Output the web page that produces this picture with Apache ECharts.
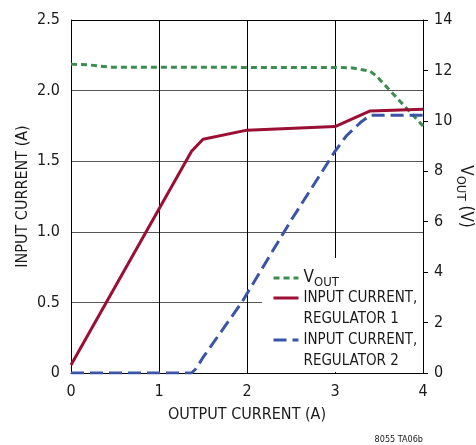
<!DOCTYPE html>
<html>
<head>
<meta charset="utf-8">
<script src="https://cdn.jsdelivr.net/npm/echarts@6/dist/echarts.min.js"></script>
<style>
html,body{margin:0;padding:0;background:#fff;}
#chart{width:476px;height:445px;}
</style>
</head>
<body>
<div id="chart"></div>
<script>
// ---- data ----
const xTicks = [0, 1, 2, 3, 4];
const leftTicks = [0, 0.5, 1.0, 1.5, 2.0, 2.5];
const rightTicks = [0, 2, 4, 6, 8, 10, 12, 14];

const voutX = [0, 0.2, 0.45, 1, 2, 3, 3.2, 3.4, 3.47, 4];
const voutY = [12.25, 12.22, 12.13, 12.13, 12.12, 12.12, 12.1, 11.97, 11.78, 9.8];

const reg1X = [0, 1.37, 1.5, 2, 3, 3.4, 4];
const reg1Y = [0.057, 1.57, 1.655, 1.72, 1.745, 1.856, 1.868];

const reg2X = [0, 1.37, 1.42, 1.5, 1.94, 2.22, 2.5, 3, 3.13, 3.3, 3.4, 4];
const reg2Y = [0, 0, 0.03, 0.11, 0.5, 0.79, 1.08, 1.57, 1.68, 1.78, 1.825, 1.825];

const zip = (xs, ys) => xs.map((x, i) => [x, ys[i]]);

const FONT = '"DejaVu Sans Condensed", "Liberation Sans Narrow", sans-serif';
const TXT = '#1a1a1a';
const GREEN = '#3d8c4f';
const RED = '#9a0f33';
const BLUE = '#3a55a8';

const chart = echarts.init(document.getElementById('chart'), null, {renderer: 'canvas'});

function legendFor(name, top) {
  return {
    orient: 'vertical',
    left: 272,
    top: top,
    padding: 0,
    itemWidth: 25,
    itemHeight: 14,
    itemGap: 0,
    selectedMode: false,
    data: [name],
    lineStyle: {width: 'inherit'},
    itemStyle: {color: 'rgba(0,0,0,0)', borderColor: 'rgba(0,0,0,0)', borderWidth: 0},
    textStyle: {
      fontFamily: FONT, fontSize: 15, color: TXT, lineHeight: 21,
      rich: {
        v: {fontFamily: FONT, fontSize: 17, color: TXT, lineHeight: 22},
        s: {fontFamily: FONT, fontSize: 13, color: TXT, lineHeight: 14, verticalAlign: 'bottom'}
      }
    },
    formatter: function (n) {
      if (n === 'VOUT') return '{v|V}{s|OUT}';
      if (n === 'R1') return '\nINPUT CURRENT,\nREGULATOR 1';
      return '\nINPUT CURRENT,\nREGULATOR 2';
    }
  };
}

const option = {
  animation: false,
  backgroundColor: '#fff',
  grid: {left: 71, right: 53, top: 20, bottom: 72, containLabel: false, outerBoundsMode: 'none'},
  xAxis: {
    type: 'value', min: 0, max: 4, interval: 1,
    name: 'OUTPUT CURRENT (A)', nameLocation: 'middle', nameGap: 34,
    nameMoveOverlap: false,
    nameTextStyle: {fontFamily: FONT, fontSize: 16, color: TXT},
    axisLine: {show: true, lineStyle: {color: '#000', width: 1}},
    axisTick: {show: false},
    axisLabel: {fontFamily: FONT, fontSize: 16, color: TXT, margin: 11,
      formatter: v => xTicks.includes(v) ? String(v) : ''},
    splitLine: {show: true, lineStyle: {color: '#000', width: 1}}
  },
  yAxis: [
    {
      type: 'value', min: 0, max: 2.5, interval: 0.5, position: 'left',
      name: 'INPUT CURRENT (A)', nameLocation: 'middle', nameGap: 40, nameRotate: 90,
      nameMoveOverlap: false,
      nameTextStyle: {fontFamily: FONT, fontSize: 16, color: TXT},
      axisLine: {show: true, lineStyle: {color: '#000', width: 1}},
      axisTick: {show: false},
      axisLabel: {fontFamily: FONT, fontSize: 16, color: TXT, margin: 11,
        formatter: v => { const t = leftTicks.find(k => Math.abs(k - v) < 1e-9); return t === undefined ? '' : (t === 0 ? '0' : t.toFixed(1)); }},
      splitLine: {show: true, lineStyle: {color: ['#000', '#555', '#555', '#555', '#555', '#000'], width: 1}}
    },
    {
      type: 'value', min: 0, max: 14, interval: 2, position: 'right', z: 2,
      name: '{v|V}{s|OUT}{v| (V)}', nameLocation: 'middle', nameGap: 31, nameRotate: -90,
      nameMoveOverlap: false,
      nameTextStyle: {fontFamily: FONT, fontSize: 17, color: TXT,
        rich: {
          v: {fontFamily: FONT, fontSize: 17, color: TXT, lineHeight: 22},
          s: {fontFamily: FONT, fontSize: 13, color: TXT, lineHeight: 14, verticalAlign: 'bottom'}
        }},
      axisLine: {show: true, lineStyle: {color: '#000', width: 1}},
      axisTick: {show: true, inside: false, length: 5, lineStyle: {color: '#000', width: 1}},
      axisLabel: {fontFamily: FONT, fontSize: 16, color: TXT, margin: 11,
        formatter: v => rightTicks.includes(v) ? String(v) : ''},
      splitLine: {show: false}
    }
  ],
  legend: [legendFor('VOUT', 267), legendFor('R1', 266.5), legendFor('R2', 308.5)],
  graphic: [
    {type: 'rect', z: 1, silent: true,
      shape: {x: 262, y: 258, width: 161, height: 114},
      style: {fill: '#fff'}},
    {type: 'text', right: 53, top: 435, silent: true,
      style: {text: '8055 TA06b', fontFamily: FONT, fontSize: 9, fill: TXT}}
  ],
  series: [
    {
      name: 'VOUT', type: 'line', yAxisIndex: 1, z: 3,
      data: zip(voutX, voutY), showSymbol: false, symbol: 'none',
      lineStyle: {color: GREEN, width: 3, type: [6, 4]},
      itemStyle: {color: GREEN}
    },
    {
      name: 'R1', type: 'line', yAxisIndex: 0, z: 3,
      data: zip(reg1X, reg1Y), showSymbol: false, symbol: 'none',
      lineStyle: {color: RED, width: 3},
      itemStyle: {color: RED}
    },
    {
      name: 'R2', type: 'line', yAxisIndex: 0, z: 3,
      data: zip(reg2X, reg2Y), showSymbol: false, symbol: 'none',
      lineStyle: {color: BLUE, width: 3, type: [13, 6]},
      itemStyle: {color: BLUE}
    }
  ]
};
chart.setOption(option);
</script>
</body>
</html>
